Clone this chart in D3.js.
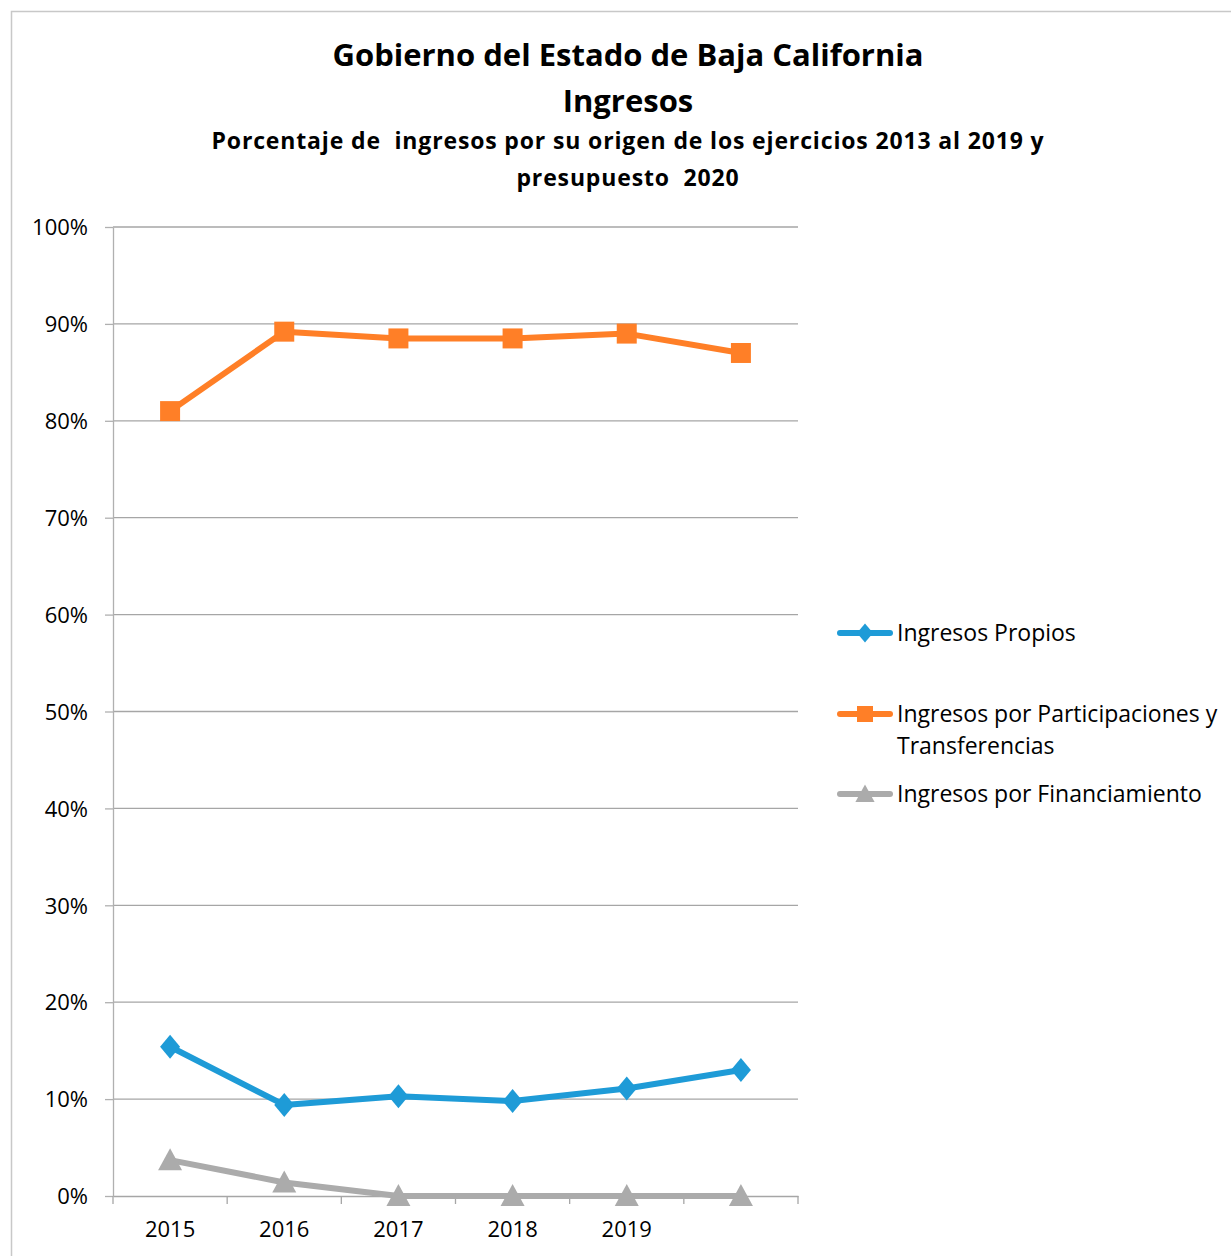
<!DOCTYPE html>
<html>
<head>
<meta charset="utf-8">
<script src="https://cdn.jsdelivr.net/npm/d3@7"></script>
<style>
  body { margin: 0; background: #fff; }
  text { font-family: "Open Sans", Lato, sans-serif; fill: #000; white-space: pre; }
</style>
</head>
<body>
<div id="chart-area"></div>
<script>
var years = ["2015", "2016", "2017", "2018", "2019", "2020"];
var yearLabels = ["2015", "2016", "2017", "2018", "2019", ""];
var propios = [15.4, 9.4, 10.3, 9.8, 11.1, 13.0];
var participaciones = [81.0, 89.2, 88.5, 88.5, 89.0, 87.0];
var financiamiento = [3.7, 1.4, 0, 0, 0, 0];
var yTicks = [0, 10, 20, 30, 40, 50, 60, 70, 80, 90, 100];

var series = [
  { name: "Ingresos Propios", values: propios, color: "#1e9bd7", marker: "diamond" },
  { name: "Ingresos por Participaciones y Transferencias", values: participaciones, color: "#ff7f27", marker: "square" },
  { name: "Ingresos por Financiamiento", values: financiamiento, color: "#ababab", marker: "triangle" }
];

var W = 1231, H = 1256;
var margin = { left: 113, top: 227 };
var width = 685, height = 969;

var svg = d3.select("#chart-area")
  .append("svg")
    .attr("width", W)
    .attr("height", H);

// outer border
svg.append("path")
  .attr("d", "M11.5," + H + "V11.5H" + W)
  .attr("fill", "none")
  .attr("stroke", "#c8c8c8")
  .attr("stroke-width", 1.5);

// titles
svg.append("text").attr("x", 628).attr("y", 66).attr("text-anchor", "middle")
  .attr("font-size", "31px").attr("font-weight", "bold")
  .text("Gobierno del Estado de Baja California");
svg.append("text").attr("x", 628).attr("y", 112).attr("text-anchor", "middle")
  .attr("font-size", "31px").attr("font-weight", "bold")
  .text("Ingresos");
svg.append("text").attr("x", 628).attr("y", 149).attr("text-anchor", "middle")
  .attr("font-size", "23px").attr("font-weight", "bold").attr("letter-spacing", "0.85px")
  .text("Porcentaje de  ingresos por su origen de los ejercicios 2013 al 2019 y");
svg.append("text").attr("x", 628).attr("y", 186).attr("text-anchor", "middle")
  .attr("font-size", "23px").attr("font-weight", "bold").attr("letter-spacing", "0.85px")
  .text("presupuesto  2020");

var g = svg.append("g")
  .attr("transform", "translate(" + margin.left + "," + margin.top + ")");

var x = d3.scaleBand().domain(years).range([0, width]);
var y = d3.scaleLinear().domain([0, 100]).range([height, 0]);

// gridlines
g.selectAll(".grid")
  .data(yTicks.filter(d => d > 0))
  .enter().append("line")
    .attr("class", "grid")
    .attr("x1", 0).attr("x2", width)
    .attr("y1", d => y(d)).attr("y2", d => y(d))
    .attr("stroke", "#a6a6a6").attr("stroke-width", 1.3);

// y axis
var yAxis = g.append("g")
  .call(d3.axisLeft(y).tickValues(yTicks).tickFormat(d => d + "%").tickSize(8).tickSizeOuter(0));
yAxis.select(".domain").attr("stroke", "#b0b0b0").attr("stroke-width", 1.3);
yAxis.selectAll(".tick line").attr("stroke", "#b0b0b0").attr("stroke-width", 1.3);
yAxis.selectAll("text").attr("font-size", "22px").attr("x", -25).attr("dy", "0.35em")
  .attr("font-family", "'Open Sans', sans-serif").attr("fill", "#000");

// x axis
var xAxis = g.append("g")
  .attr("transform", "translate(0," + height + ")")
  .call(d3.axisBottom(x).tickFormat((d, i) => yearLabels[i]).tickSize(0).tickSizeOuter(0));
xAxis.select(".domain").attr("stroke", "#a6a6a6").attr("stroke-width", 1.3);
xAxis.selectAll("text").attr("font-size", "22px").attr("y", 25).attr("dy", "0.71em")
  .attr("font-family", "'Open Sans', sans-serif").attr("fill", "#000");

// x tick marks at band boundaries
var bounds = years.map(d => x(d)).concat([width]);
g.selectAll(".xtick")
  .data(bounds)
  .enter().append("line")
    .attr("x1", d => d).attr("x2", d => d)
    .attr("y1", height).attr("y2", height + 8)
    .attr("stroke", "#a6a6a6").attr("stroke-width", 1.3);

var cx = d => x(d) + x.bandwidth() / 2;

// marker shapes
var markerPath = {
  diamond: "M0,-12L10,0L0,12L-10,0Z",
  square: "M-10,-10H10V10H-10Z",
  triangle: "M0,-12L12,10H-12Z"
};

var line = d3.line()
  .x((d, i) => cx(years[i]))
  .y(d => y(d));

series.forEach(s => {
  g.append("path")
    .datum(s.values)
    .attr("fill", "none")
    .attr("stroke", s.color)
    .attr("stroke-width", 6)
    .attr("stroke-linejoin", "round")
    .attr("d", line);

  g.selectAll(".m-" + s.marker)
    .data(s.values)
    .enter().append("path")
      .attr("transform", (d, i) => "translate(" + cx(years[i]) + "," + y(d) + ")")
      .attr("d", markerPath[s.marker])
      .attr("fill", s.color);
});

// legend
var legendRows = [
  { y: 633, lines: ["Ingresos Propios"] },
  { y: 714, lines: ["Ingresos por Participaciones y", "Transferencias"] },
  { y: 794, lines: ["Ingresos por Financiamiento"] }
];

var legend = svg.append("g");
series.forEach((s, i) => {
  var r = legendRows[i];
  legend.append("line")
    .attr("x1", 840).attr("x2", 890)
    .attr("y1", r.y).attr("y2", r.y)
    .attr("stroke", s.color).attr("stroke-width", 6).attr("stroke-linecap", "round");
  legend.append("path")
    .attr("transform", "translate(865," + r.y + ") scale(0.8)")
    .attr("d", markerPath[s.marker])
    .attr("fill", s.color);
  r.lines.forEach((t, j) => {
    legend.append("text")
      .attr("x", 897).attr("y", r.y + j * 32)
      .attr("dy", "0.35em")
      .attr("font-size", "23px")
      .text(t);
  });
});
</script>
</body>
</html>
